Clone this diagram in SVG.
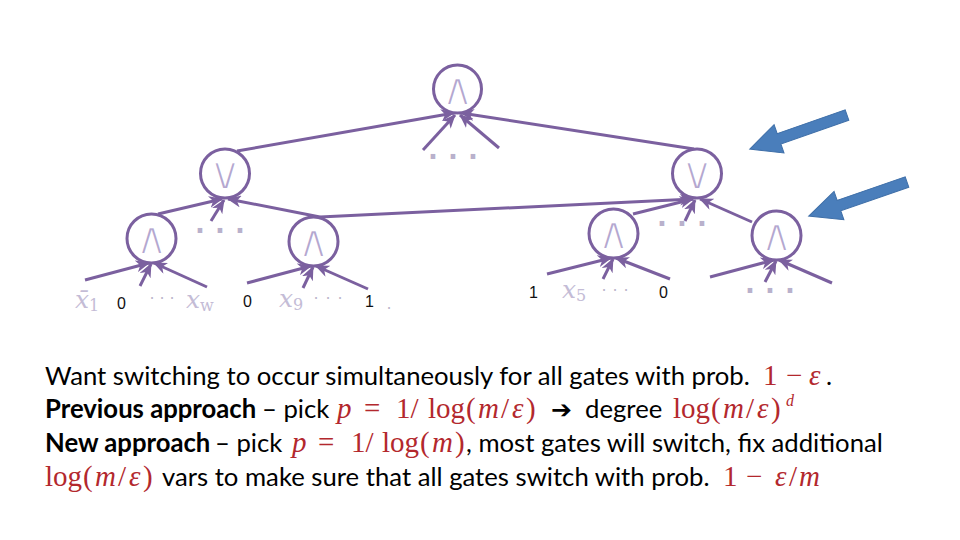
<svg xmlns="http://www.w3.org/2000/svg" width="960" height="540" viewBox="0 0 960 540">
<style>
.node circle{fill:#fff;stroke:#7b609f;stroke-width:3}
.op{font-family:"DejaVu Sans",sans-serif;font-size:46px;fill:#b3a6cf;stroke:#fff;stroke-width:2;text-anchor:middle}
.e{stroke:#7b609f;stroke-width:3;fill:none;marker-end:url(#ah)}
.dots{font-family:"DejaVu Sans",sans-serif;font-weight:bold;font-size:26px;fill:#b9b1cc;text-anchor:middle}
.sd{font-family:"DejaVu Sans",sans-serif;font-size:16px;fill:#bdb6cc;text-anchor:middle}
.var{font-family:"DejaVu Serif",serif;font-style:italic;font-size:25px;fill:#c4bcd6}
.sub{font-style:normal;font-size:16px}
.num{font-family:"Liberation Sans",sans-serif;font-size:16px;fill:#111}
.t{font-family:Lato,"Liberation Sans",sans-serif;font-size:25.7px;fill:#000}
.b{font-weight:bold}
.m{font-family:"Liberation Serif",serif;font-size:29px;fill:#b3282d}
.i{font-style:italic}
.blue{fill:#4a7ebb;stroke:#3f6fa8;stroke-width:1}
</style>
<defs>
<marker id="ah" markerUnits="userSpaceOnUse" markerWidth="14" markerHeight="12" viewBox="0 0 14 12" refX="13" refY="6" orient="auto">
<path d="M0,0 L14,6 L0,12 L4,6 z" fill="#7b609f"/>
</marker>
</defs>
<rect width="960" height="540" fill="#fff"/>

<g id="connectors">
<line class="e" x1="237" y1="151" x2="454" y2="113"/>
<line class="e" x1="423" y1="150" x2="455" y2="115"/>
<line class="e" x1="499" y1="148" x2="460" y2="115"/>
<line class="e" x1="694" y1="149" x2="461" y2="113"/>
<line class="e" x1="158" y1="214" x2="222" y2="199"/>
<line class="e" x1="211" y1="221" x2="224" y2="200"/>
<line class="e" x1="320" y1="217" x2="228" y2="199"/>
<line class="e" x1="320" y1="217" x2="693" y2="199"/>
<line class="e" x1="633" y1="214" x2="693" y2="199"/>
<line class="e" x1="685" y1="221" x2="695" y2="200"/>
<line class="e" x1="752" y1="222" x2="700" y2="199"/>
<line class="e" x1="85" y1="280" x2="149" y2="263"/>
<line class="e" x1="140" y1="286" x2="151" y2="264"/>
<line class="e" x1="207" y1="287" x2="154" y2="263"/>
<line class="e" x1="247" y1="283" x2="311" y2="266"/>
<line class="e" x1="303" y1="288" x2="313" y2="267"/>
<line class="e" x1="368" y1="289" x2="316" y2="266"/>
<line class="e" x1="547" y1="274" x2="611" y2="258"/>
<line class="e" x1="603" y1="279" x2="613" y2="259"/>
<line class="e" x1="670" y1="279" x2="616" y2="258"/>
<line class="e" x1="710" y1="277" x2="774" y2="260"/>
<line class="e" x1="765" y1="282" x2="776" y2="261"/>
<line class="e" x1="832" y1="283" x2="779" y2="260"/>
</g>

<g id="n-top" class="node"><circle cx="457.5" cy="89" r="24"/><text class="op" x="457.5" y="105">∧</text></g>
<g id="n-or-left" class="node"><circle cx="225" cy="173.5" r="24.5"/><text class="op" x="225" y="189">∨</text></g>
<g id="n-or-right" class="node"><circle cx="697" cy="173.5" r="24.5"/><text class="op" x="697" y="189">∨</text></g>
<g id="n-and-1" class="node"><circle cx="151.5" cy="238.5" r="24.5"/><text class="op" x="151.5" y="254">∧</text></g>
<g id="n-and-2" class="node"><circle cx="313.5" cy="241.5" r="24.5"/><text class="op" x="313.5" y="257">∧</text></g>
<g id="n-and-3" class="node"><circle cx="613.5" cy="233.5" r="24.5"/><text class="op" x="613.5" y="249">∧</text></g>
<g id="n-and-4" class="node"><circle cx="776.5" cy="235.5" r="24.5"/><text class="op" x="776.5" y="251">∧</text></g>

<g id="ellipses">
<text class="dots" x="433 453 473" y="166">···</text>
<text class="dots" x="200 220 240" y="240">···</text>
<text class="dots" x="662 682 702" y="233">···</text>
<text class="dots" x="750 770 790" y="300">···</text>
</g>

<g id="leaves">
<text class="var" x="75" y="308">x̄<tspan class="sub" dy="3">1</tspan></text>
<text class="num" x="117" y="309">0</text>
<text class="sd" x="152 162 172" y="304">···</text>
<text class="var" x="186" y="308">x<tspan class="sub" dy="3">w</tspan></text>
<text class="num" x="243" y="307">0</text>
<text class="var" x="279" y="307">x<tspan class="sub" dy="3">9</tspan></text>
<text class="sd" x="316 328 340" y="304">···</text>
<text class="num" x="365" y="307">1</text>
<text class="sd" x="389" y="309">.</text>
<text class="num" x="529" y="298">1</text>
<text class="var" x="562" y="298">x<tspan class="sub" dy="3">5</tspan></text>
<text class="sd" x="604 615 626" y="296">···</text>
<text class="num" x="659" y="298">0</text>
</g>

<g id="blue-arrows">
<polygon class="blue" transform="translate(847,115) rotate(160.7)" points="0,-5.5 72,-5.5 72,-15 103,0 72,15 72,5.5 0,5.5"/>
<polygon class="blue" transform="translate(907,182) rotate(160.9)" points="0,-5.5 72,-5.5 72,-15 104,0 72,15 72,5.5 0,5.5"/>
</g>

<g id="text">
<text class="t" x="45" y="385">Want switching to occur simultaneously for all gates with prob.</text>
<text class="m"><tspan x="763" y="385">1</tspan><tspan x="786" y="385">−</tspan><tspan class="i" x="809" y="385">ε</tspan></text>
<text class="t" x="826" y="385">.</text>

<text class="t b" x="45" y="418">Previous approach</text>
<text class="t" x="262" y="418">– pick</text>
<text class="m"><tspan class="i" x="337" y="418">p</tspan><tspan x="364" y="418">=</tspan><tspan x="396" y="418">1/</tspan><tspan x="428" y="418">log</tspan><tspan x="466" y="418">(</tspan><tspan class="i" x="478" y="418">m</tspan><tspan x="501" y="418">/</tspan><tspan class="i" x="512" y="418">ε</tspan><tspan x="526" y="418">)</tspan></text>
<text x="551" y="418" style="font-family:'DejaVu Sans',sans-serif;font-size:25px;font-weight:bold;fill:#000">➔</text>
<text class="t" x="585" y="418">degree</text>
<text class="m"><tspan x="673" y="418">log</tspan><tspan x="711" y="418">(</tspan><tspan class="i" x="723" y="418">m</tspan><tspan x="746" y="418">/</tspan><tspan class="i" x="757" y="418">ε</tspan><tspan x="771" y="418">)</tspan></text>
<text class="m i" x="786" y="406" style="font-size:16px">d</text>

<text class="t b" x="45" y="452">New approach</text>
<text class="t" x="215" y="452">– pick</text>
<text class="m"><tspan class="i" x="292" y="452">p</tspan><tspan x="318" y="452">=</tspan><tspan x="351" y="452">1/</tspan><tspan x="382" y="452">log</tspan><tspan x="420" y="452">(</tspan><tspan class="i" x="432" y="452">m</tspan><tspan x="455" y="452">)</tspan></text>
<text class="t" x="466" y="452">, most gates will switch, fix additional</text>

<text class="m"><tspan x="45" y="486">log</tspan><tspan x="83" y="486">(</tspan><tspan class="i" x="95" y="486">m</tspan><tspan x="118" y="486">/</tspan><tspan class="i" x="129" y="486">ε</tspan><tspan x="143" y="486">)</tspan></text>
<text class="t" x="162" y="486">vars to make sure that all gates switch with prob.</text>
<text class="m"><tspan x="723" y="486">1</tspan><tspan x="746" y="486">−</tspan><tspan class="i" x="775" y="486">ε</tspan><tspan x="789" y="486">/</tspan><tspan class="i" x="799" y="486">m</tspan></text>
</g>
</svg>
